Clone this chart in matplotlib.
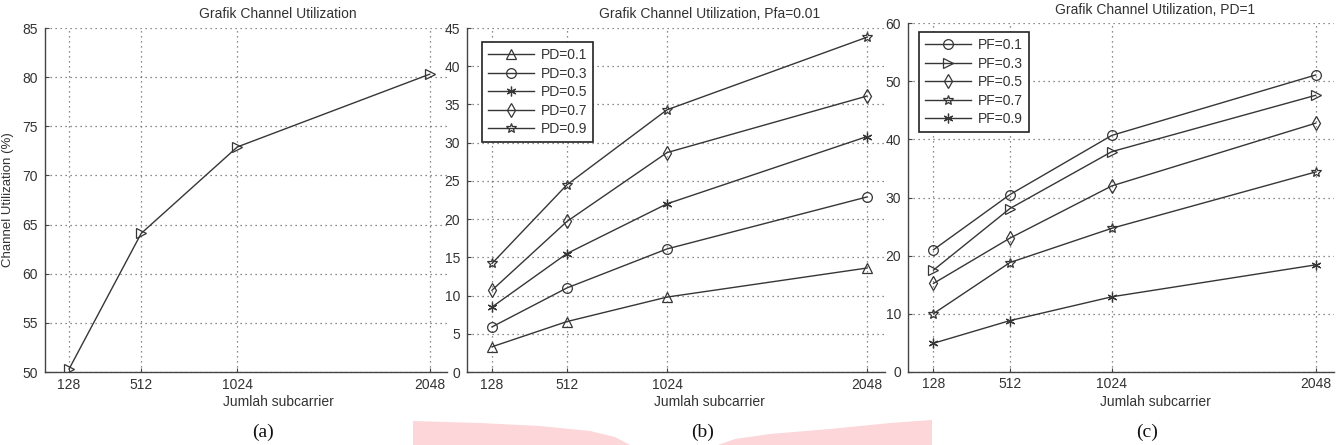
import matplotlib
matplotlib.use('Agg')
import matplotlib.pyplot as plt
from matplotlib.patches import Polygon

plt.rcParams['font.family'] = ['Liberation Sans', 'DejaVu Sans']

# data
subcarrier = [128, 512, 1024, 2048]

util_a = [50.3, 64.1, 72.9, 80.3]

pd_labels = ['PD=0.1', 'PD=0.3', 'PD=0.5', 'PD=0.7', 'PD=0.9']
pd_01 = [3.3, 6.6, 9.8, 13.6]
pd_03 = [5.9, 11.0, 16.1, 22.9]
pd_05 = [8.5, 15.5, 22.0, 30.8]
pd_07 = [10.7, 19.7, 28.7, 36.1]
pd_09 = [14.2, 24.5, 34.3, 43.8]

pf_labels = ['PF=0.1', 'PF=0.3', 'PF=0.5', 'PF=0.7', 'PF=0.9']
pf_01 = [21.0, 30.5, 40.7, 51.1]
pf_03 = [17.5, 28.1, 37.9, 47.6]
pf_05 = [15.2, 23.0, 32.0, 42.8]
pf_07 = [10.0, 18.8, 24.7, 34.4]
pf_09 = [4.9, 8.8, 12.9, 18.4]

LINE = '#363636'
TEXT = '#333333'
ASTERISK = (6, 2, 0)

W, H = 1342, 445


def px_rect(left, top, right, bottom):
    return [left / W, (H - bottom) / H, (right - left) / W, (bottom - top) / H]


def style_axes(ax, ylim, yticks, title):
    ax.set_xlim(0, 2140)
    ax.set_ylim(*ylim)
    ax.set_xticks(subcarrier)
    ax.set_yticks(yticks)
    ax.grid(True, linestyle=(0, (1, 3)), color='#666666', linewidth=0.9)
    ax.set_axisbelow(True)
    for side in ['top', 'right']:
        ax.spines[side].set_visible(False)
    for side in ['left', 'bottom']:
        ax.spines[side].set_color('#444444')
        ax.spines[side].set_linewidth(1.0)
    ax.tick_params(direction='in', length=3, width=0.8, colors='#444444',
                   labelcolor=TEXT, labelsize=10)
    ax.tick_params(axis='y', pad=5)
    ax.tick_params(axis='x', pad=4)
    ax.set_title(title, x=0.58, pad=7, fontsize=10, color=TEXT)
    ax.set_xlabel('Jumlah subcarrier', fontsize=10, color=TEXT)
    ax.xaxis.set_label_coords(0.58, -0.066)
    ax.xaxis.label.set_va('top')


def plot_series(ax, series, labels, markers):
    for values, label, marker in zip(series, labels, markers):
        ax.plot(subcarrier, values, color=LINE, linewidth=1.0, marker=marker,
                markersize=7, markerfacecolor='none', markeredgecolor=LINE,
                markeredgewidth=0.9, label=label)
    leg = ax.legend(loc='upper left', fontsize=10, handlelength=3.3,
                    labelspacing=0.32, borderpad=0.45, handletextpad=0.45,
                    fancybox=False, framealpha=1, edgecolor='#222222')
    leg.get_frame().set_linewidth(1.2)
    for t in leg.get_texts():
        t.set_color(TEXT)
    return leg


fig = plt.figure(figsize=(W / 100, H / 100), dpi=100)

# (a)
ax_a = fig.add_axes(px_rect(45, 28, 447, 372))
ax_a.plot(subcarrier, util_a, color=LINE, linewidth=1.0, marker='>',
          markersize=7, markerfacecolor='none', markeredgecolor=LINE,
          markeredgewidth=0.9)
style_axes(ax_a, (50, 85), range(50, 86, 5), 'Grafik Channel Utilization')
ax_a.set_ylabel('Channel Utilization (%)', fontsize=9.5, color=TEXT)
ax_a.yaxis.set_label_coords(-0.078, 0.5)

# (b)
ax_b = fig.add_axes(px_rect(467, 28, 885, 372))
leg_b = plot_series(ax_b, [pd_01, pd_03, pd_05, pd_07, pd_09], pd_labels,
                    ['^', 'o', ASTERISK, 'd', '*'])
leg_b.set_bbox_to_anchor((0.036, 0.959), transform=ax_b.transAxes)
leg_b.borderaxespad = 0
style_axes(ax_b, (0, 45), range(0, 46, 5), 'Grafik Channel Utilization, Pfa=0.01')

# (c)
ax_c = fig.add_axes(px_rect(908, 23.3, 1334, 371.7))
leg_c = plot_series(ax_c, [pf_01, pf_03, pf_05, pf_07, pf_09], pf_labels,
                    ['o', '>', 'd', '*', ASTERISK])
leg_c.set_bbox_to_anchor((0.026, 0.975), transform=ax_c.transAxes)
leg_c.borderaxespad = 0
style_axes(ax_c, (0, 60), range(0, 61, 10), 'Grafik Channel Utilization, PD=1')

# pink watermark behind the bottom captions
left_blob = [(413, 445), (413, 421), (480, 423), (540, 426), (590, 431),
             (615, 437), (630, 445)]
right_blob = [(718, 445), (735, 439), (770, 434), (830, 429), (890, 423),
              (932, 420), (932, 445)]
for blob in [left_blob, right_blob]:
    pts = [(x / W, (H - y) / H) for x, y in blob]
    fig.patches.append(Polygon(pts, closed=True, transform=fig.transFigure,
                               facecolor='#fcd6d9', edgecolor='none', zorder=0))

for label, x in [('(a)', 263), ('(b)', 703), ('(c)', 1147)]:
    fig.text(x / W, (H - 432) / H, label, ha='center', va='center',
             fontsize=14, family=['Liberation Serif', 'DejaVu Serif'],
             color='#111111')

fig.savefig('out.png', dpi=100)
